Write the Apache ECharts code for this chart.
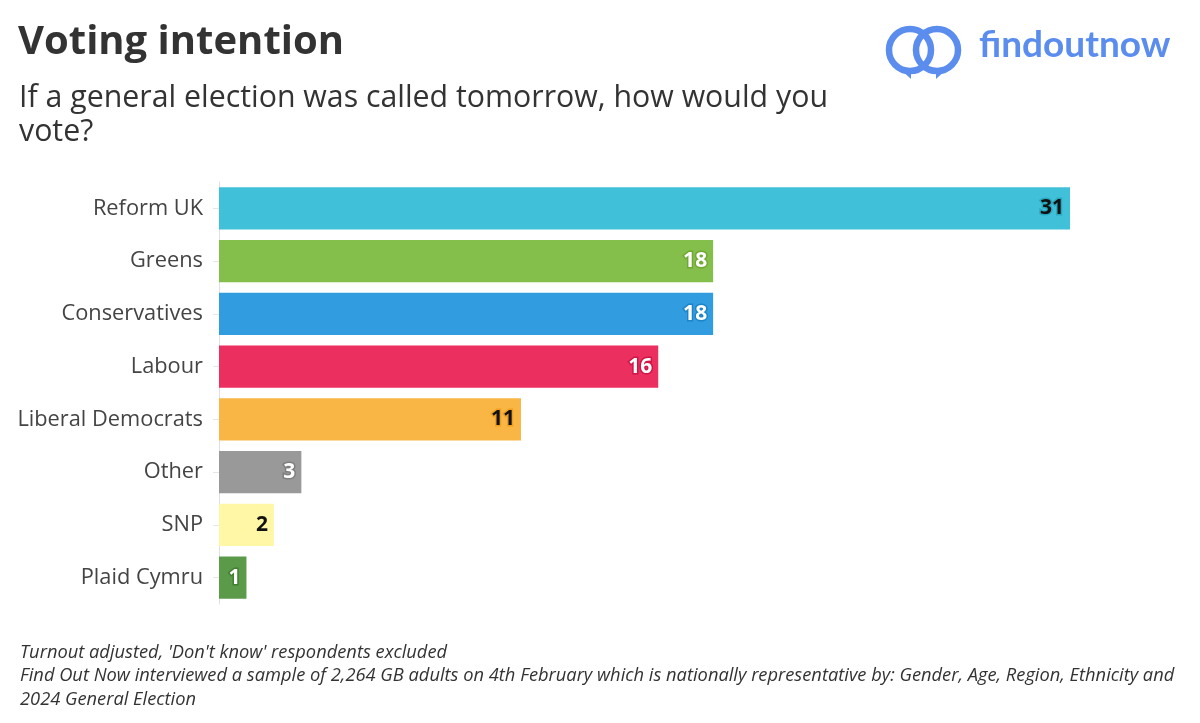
<!DOCTYPE html>
<html><head><meta charset="utf-8">
<script src="https://cdn.jsdelivr.net/npm/echarts@6/dist/echarts.min.js"></script>
<style>html,body{margin:0;padding:0;background:#fff}#c{width:1200px;height:723px}</style>
</head><body><div id="c"></div>
<script>
const categories = ['Reform UK','Greens','Conservatives','Labour','Liberal Democrats','Other','SNP','Plaid Cymru'];
const values = [31,18,18,16,11,3,2,1];
const barColors = ['#41C1D9','#85BF4B','#329CE0','#EB2F5F','#F9B644','#999999','#FFF6A6','#5A9A48'];
const labelColors = ['#111','#fff','#fff','#fff','#111','#fff','#111','#fff'];
const labelBorders = ['#2AA9C0','#6FA833','#1C84C7','#CF1446','#F0A020','#7F7F7F','#FFF6A6','#437F33'];

const chart = echarts.init(document.getElementById('c'));
const font = '"Open Sans", "Noto Sans", sans-serif';
chart.setOption({
  animation:false,
  title:[
    {text:'Voting intention',left:13,top:18,textStyle:{fontFamily:font,fontSize:40,fontWeight:'bold',color:'#333'}},
    {text:'If a general election was called tomorrow, how would you\nvote?',left:14,top:76,textStyle:{fontFamily:font,fontSize:30.3,fontWeight:'normal',color:'#333',lineHeight:34}},
    {text:"Turnout adjusted, 'Don't know' respondents excluded\nFind Out Now interviewed a sample of 2,264 GB adults on 4th February which is nationally representative by: Gender, Age, Region, Ethnicity and\n2024 General Election",left:15,top:636,textStyle:{fontFamily:font,fontSize:18.3,fontStyle:'italic',fontWeight:'normal',color:'#333',lineHeight:23.5}}
  ],
  grid:{left:219,right:1200-1070-0.01,top:182,bottom:723-604,containLabel:false},
  xAxis:{type:'value',min:0,max:31,show:false},
  yAxis:{type:'category',data:categories,inverse:true,
    axisLine:{show:true,lineStyle:{color:'#e0e0e0',width:1}},
    axisTick:{show:true,alignWithLabel:true,length:6,lineStyle:{color:'#e6e6e6'}},
    axisLabel:{fontFamily:font,fontSize:21.8,color:'#444',margin:16}},
  series:[{type:'bar',barCategoryGap:'20%',
    data:values.map((v,i)=>({value:v,itemStyle:{color:barColors[i]},
      label:{color:labelColors[i],textBorderColor:labelBorders[i],textBorderWidth:3}})),
    label:{show:true,position:'insideRight',distance:6,fontFamily:font,fontSize:21,fontWeight:'bold'}}],
  graphic:[
    {type:'circle',shape:{cx:910,cy:50,r:21},style:{fill:'none',stroke:'#5B8DEF',lineWidth:6.5}},
    {type:'circle',shape:{cx:937,cy:50,r:21},style:{fill:'none',stroke:'#5B8DEF',lineWidth:6.5}},
    {type:'polygon',shape:{points:[[899,68],[911,70],[911,79]]},style:{fill:'#5B8DEF'}},
    {type:'polygon',shape:{points:[[948,68],[936,70],[936,79]]},style:{fill:'#5B8DEF'}},
    {type:'text',left:979,top:27,style:{text:'findoutnow',fontFamily:'"Lato", "Open Sans", sans-serif',fontSize:37,fontWeight:'bold',fill:'#5B8DEF'}}
  ]
});
</script></body></html>
